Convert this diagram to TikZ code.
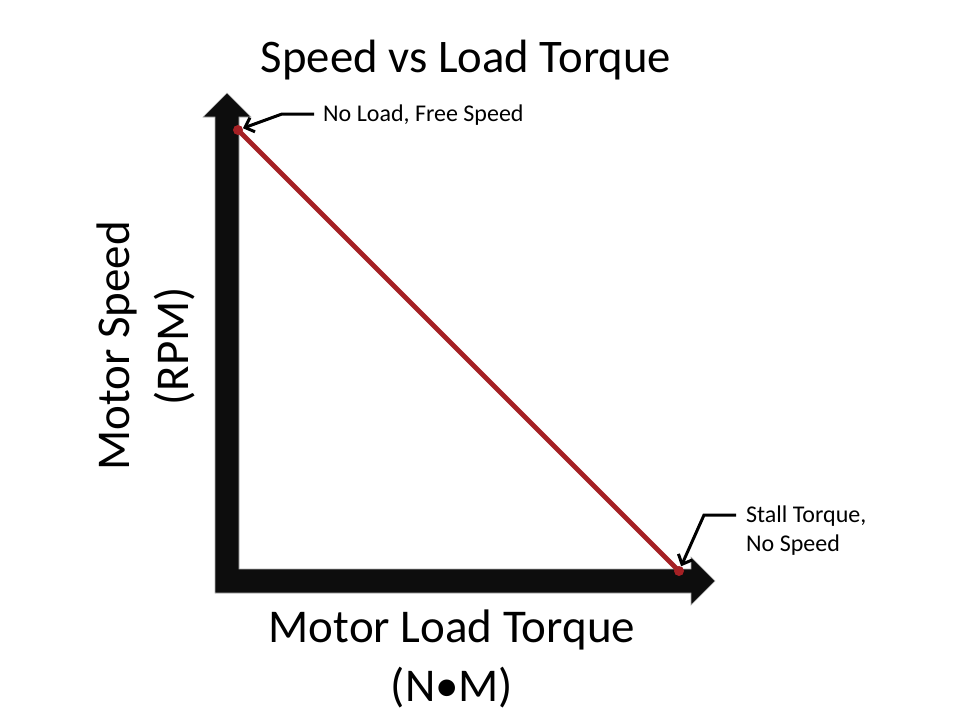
\documentclass[tikz,border=0pt]{standalone}
\usepackage{fontspec}
\setmainfont{Carlito}
\usetikzlibrary{arrows.meta}
\definecolor{axisblack}{RGB}{13,13,13}
\definecolor{curvered}{RGB}{165,32,36}
\begin{document}
\begin{tikzpicture}[x=1pt,y=-1pt,
  bigtext/.style={font=\fontsize{47}{56}\selectfont, inner sep=0pt},
  titletext/.style={font=\fontsize{46.7}{56}\selectfont, inner sep=0pt},
  smalltext/.style={font=\fontsize{24}{29}\selectfont, inner sep=0pt, anchor=west},
  enddot/.style={circle, fill=curvered, inner sep=0pt, minimum size=10pt},
  callout/.style={line width=3pt, -{Straight Barb[length=8pt,width=15pt,line width=3pt]}}
]
\useasboundingbox (0,0) rectangle (960,720);
\fill[white] (0,0) rectangle (960,720);
% axes
\fill[axisblack, draw=gray!60, line width=0.6pt]
  (215,593) -- (215,117) -- (203,117) -- (227,93) -- (251,117) -- (239,117)
  -- (239,569) -- (691,569) -- (691,557) -- (715,581) -- (691,605) -- (691,593) -- cycle;
% curve
\node[enddot] (p1) at (238,130) {};
\node[enddot] (p2) at (679,571) {};
\draw[curvered, line width=4.8pt] (p1.center) -- (p2.center);
% title
\node[titletext] (title) at (466,60) {Speed vs Load Torque};
% axis labels
\node[bigtext] (xl1) at (452,630) {Motor Load Torque};
\node[bigtext] (xl2) at (452,688) {(N•M)};
\node[bigtext, rotate=90] (yl1) at (117,346) {Motor Speed};
\node[bigtext, rotate=90] (yl2) at (175,346) {(RPM)};
% callouts
\node[smalltext] (t1) at (323,115) {No Load, Free Speed};
\coordinate (a1) at (314,114);
\coordinate (b1) at (282,114);
\draw[callout] (a1) -- (b1) -- (p1);
\node[smalltext] (t2) at (746,516) {Stall Torque,};
\node[smalltext] (t3) at (746,545) {No Speed};
\coordinate (a2) at (736,515);
\coordinate (b2) at (704,515);
\draw[callout] (a2) -- (b2) -- (p2);
\end{tikzpicture}
\end{document}
